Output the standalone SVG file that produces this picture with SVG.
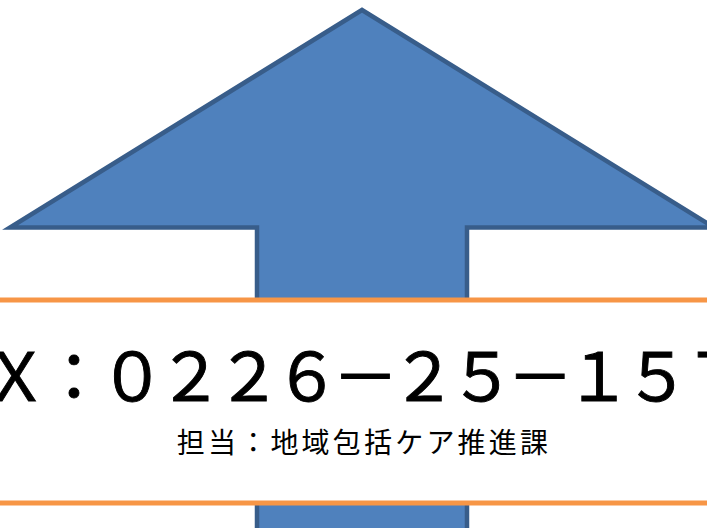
<svg xmlns="http://www.w3.org/2000/svg" width="707" height="528" viewBox="0 0 707 528">
  <style>
    .arrow { fill: #4F81BD; stroke: #385D8A; stroke-width: 4.5; stroke-linejoin: miter; }
    .band { fill: #FFFFFF; stroke: none; }
    .rule { stroke: #F79646; stroke-width: 5; fill: none; }
    .fax { font-family: "Noto Sans CJK JP", "Noto Sans", sans-serif; font-size: 66px; letter-spacing: -7.7px; fill: #000000; stroke: #000000; stroke-width: 0.9px; }
    .dept { font-family: "Noto Sans CJK JP", "Noto Sans", sans-serif; font-size: 28px; letter-spacing: 3.2px; fill: #000000; }
  </style>
  <rect width="707" height="528" fill="#FFFFFF"/>
  <g id="arrow">
    <polygon class="arrow" points="362,10 714,227.5 467,227.5 467,545 257,545 257,227.5 10,227.5"/>
  </g>
  <g id="band">
    <rect class="band" x="-10" y="300" width="727" height="203"/>
    <line class="rule" x1="-10" y1="300" x2="717" y2="300"/>
    <line class="rule" x1="-10" y1="503" x2="717" y2="503"/>
    <text class="fax" x="-134" y="401">ＦＡＸ：０２２６－２５－１５７</text>
    <text class="dept" x="364" y="453" text-anchor="middle">担当：地域包括ケア推進課</text>
  </g>
</svg>
